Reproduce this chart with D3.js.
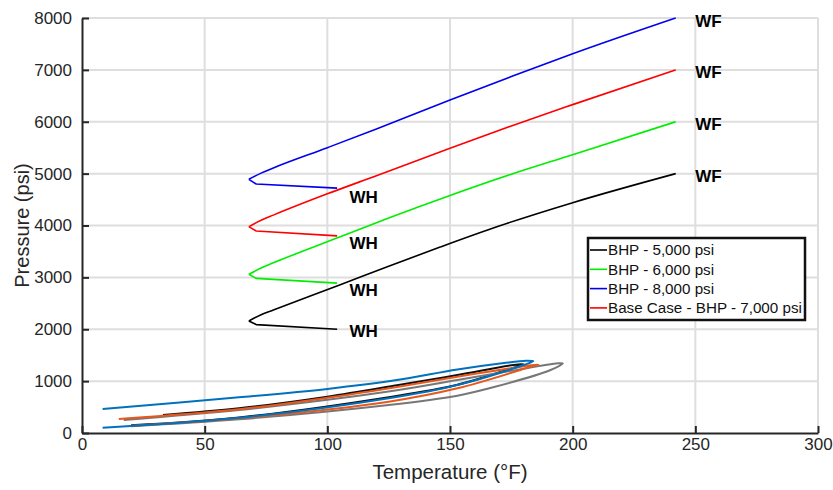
<!DOCTYPE html>
<html>
<head>
<meta charset="utf-8">
<script src="https://cdn.jsdelivr.net/npm/d3@7"></script>
<style>
  body { margin: 0; background: #fff; }
  svg { font-family: "Liberation Sans", Arial, sans-serif; }
</style>
</head>
<body>
<svg id="chart" width="833" height="490"></svg>
<script>
// --- data (Temperature °F, Pressure psi) ---
const xTicks = [0, 50, 100, 150, 200, 250, 300];
const yTicks = [0, 1000, 2000, 3000, 4000, 5000, 6000, 7000, 8000];

// WH -> WF profiles (wellhead leg first, then vertex and up to the wellbore foot)
const bhp5000 = [[104,2000],[71,2090],[68,2160],[73,2280],[78,2371],[105,2853],[125,3215],[146,3585],[170,3990],[200,4440],[242,5000]];
const bhp6000 = [[104,2890],[71,2980],[68,3060],[73,3180],[78,3280],[105,3777],[125,4145],[150,4580],[175,4990],[200,5365],[242,6000]];
const bhp8000 = [[104,4720],[71,4800],[68,4890],[73,5010],[78,5110],[100,5500],[120,5860],[150,6420],[175,6870],[200,7310],[242,8000]];
const bhp7000 = [[104,3800],[71,3895],[68,3978],[73,4100],[78,4200],[100,4610],[120,4960],[150,5490],[175,5920],[200,6330],[242,7000]];

const profileNames = ["BHP - 5,000 psi", "BHP - 6,000 psi", "BHP - 8,000 psi", "Base Case - BHP - 7,000 psi"];
const profileColors = ["#000000", "#00ee00", "#0000ee", "#ff0000"];

// phase envelopes near the bottom
const envBlack  = [[33,347],[64,476],[100,700],[129,925],[153,1118],[176,1311],[180,1325],[176,1260],[153,930],[125,690],[64,300],[20,150]];
const envGray   = [[17,250],[64,443],[100,640],[129,829],[153,1022],[175,1200],[194,1343],[196,1343],[191,1214],[166,861],[153,720],[125,540],[64,264],[20,130]];
const envOrange = [[15,270],[64,457],[100,680],[129,893],[153,1086],[175,1250],[186,1324],[183,1279],[153,861],[125,604],[64,285],[20,140]];
const envBlue   = [[8.4,463],[64,688],[100,850],[127,1010],[153,1225],[172,1350],[181,1394],[184,1385],[180,1311],[153,925],[125,669],[68.5,315],[8.4,103]];

const whLabels = [[109,4540],[109,3660],[109,2760],[109,1960]];
const wfLabels = [[250,7950],[250,6950],[250,5950],[250,4950]];

// --- layout ---
const svg = d3.select("#chart");
const x = d3.scaleLinear().domain([0, 300]).range([82, 818]);
const y = d3.scaleLinear().domain([0, 8000]).range([433, 18]);

// grid
svg.append("g").selectAll("line").data(xTicks.slice(1)).join("line")
  .attr("x1", d => x(d)).attr("x2", d => x(d))
  .attr("y1", y(0)).attr("y2", y(8000))
  .attr("stroke", "#dedede").attr("stroke-width", 2);
svg.append("g").selectAll("line").data(yTicks.slice(1)).join("line")
  .attr("x1", x(0)).attr("x2", x(300))
  .attr("y1", d => y(d)).attr("y2", d => y(d))
  .attr("stroke", "#dedede").attr("stroke-width", 2);

const smooth = d3.line().x(d => x(d[0])).y(d => y(d[1])).curve(d3.curveCatmullRom.alpha(0.5));
const straight = d3.line().x(d => x(d[0])).y(d => y(d[1]));
const rising = d3.line().x(d => x(d[0])).y(d => y(d[1])).curve(d3.curveMonotoneX);

// bottom envelopes
const envs = [[envBlack, "#111111"], [envGray, "#777777"], [envOrange, "#e8581c"], [envBlue, "#0072bd"]];
svg.append("g").selectAll("path").data(envs).join("path")
  .attr("d", d => smooth(d[0]))
  .attr("fill", "none")
  .attr("stroke", d => d[1])
  .attr("stroke-width", 2)
  .attr("stroke-linejoin", "round");

// profiles: straight wellhead leg + smooth rising branch
const profiles = [bhp5000, bhp6000, bhp8000, bhp7000];
const pg = svg.append("g").selectAll("g").data(profiles).join("g");
pg.append("path")
  .attr("d", d => straight(d.slice(0, 3)))
  .attr("fill", "none")
  .attr("stroke", (d, i) => profileColors[i])
  .attr("stroke-width", 1.6)
  .attr("stroke-linejoin", "round");
pg.append("path")
  .attr("d", d => rising(d.slice(2)))
  .attr("fill", "none")
  .attr("stroke", (d, i) => profileColors[i])
  .attr("stroke-width", 1.6)
  .attr("stroke-linejoin", "round");

// WH / WF labels
svg.append("g").selectAll("text").data(whLabels).join("text")
  .attr("x", d => x(d[0])).attr("y", d => y(d[1]))
  .attr("dy", "0.35em")
  .attr("font-size", 17).attr("font-weight", "bold")
  .text("WH");
svg.append("g").selectAll("text").data(wfLabels).join("text")
  .attr("x", d => x(d[0])).attr("y", d => y(d[1]))
  .attr("dy", "0.35em")
  .attr("font-size", 17).attr("font-weight", "bold")
  .text("WF");

// axes
const xAxis = svg.append("g").attr("transform", `translate(0,${y(0)})`)
  .call(d3.axisBottom(x).tickValues(xTicks).tickSizeInner(-7).tickSizeOuter(0).tickPadding(5));
const yAxis = svg.append("g").attr("transform", `translate(${x(0)},0)`)
  .call(d3.axisLeft(y).tickValues(yTicks).tickFormat(d3.format("d")).tickSizeInner(-7).tickSizeOuter(0).tickPadding(10));
[xAxis, yAxis].forEach(a => {
  a.select(".domain").attr("stroke", "#262626").attr("stroke-width", 2);
  a.selectAll(".tick line").attr("stroke", "#262626").attr("stroke-width", 2);
  a.selectAll(".tick text").attr("fill", "#262626").attr("font-size", 17)
    .attr("font-family", "'Liberation Sans', Arial, sans-serif");
});

// axis titles
svg.append("text")
  .attr("x", x(150)).attr("y", 479)
  .attr("text-anchor", "middle")
  .attr("font-size", 20.5).attr("fill", "#262626")
  .text("Temperature (°F)");
svg.append("text")
  .attr("transform", `translate(29,${y(4000)}) rotate(-90)`)
  .attr("text-anchor", "middle")
  .attr("font-size", 20).attr("fill", "#262626")
  .text("Pressure (psi)");

// legend
const lg = svg.append("g").attr("transform", "translate(588,238)");
lg.append("rect").attr("width", 217).attr("height", 82)
  .attr("fill", "#fff").attr("stroke", "#111").attr("stroke-width", 2.5);
const items = lg.selectAll("g").data(profileNames).join("g")
  .attr("transform", (d, i) => `translate(0,${12 + i * 19.3})`);
items.append("line").attr("x1", 2).attr("x2", 19).attr("y1", 0).attr("y2", 0)
  .attr("stroke", (d, i) => profileColors[i]).attr("stroke-width", 1.6);
items.append("text").attr("x", 20).attr("dy", "0.35em")
  .attr("font-size", 15.2).attr("fill", "#111")
  .text(d => d);
</script>
</body>
</html>
